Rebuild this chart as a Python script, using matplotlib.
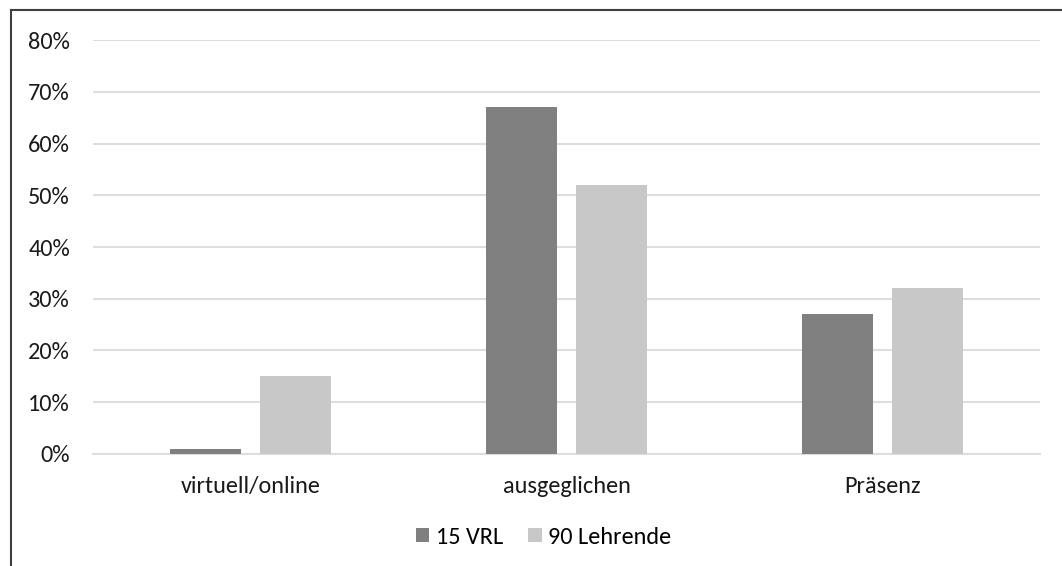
import numpy as np
import matplotlib as mpl
from matplotlib import pyplot as plt
from matplotlib.lines import Line2D
from matplotlib.ticker import PercentFormatter

mpl.rcParams['font.family'] = ['Carlito', 'Lato', 'DejaVu Sans']

categories = ['virtuell/online', 'ausgeglichen', 'Präsenz']
series_names = ['15 VRL', '90 Lehrende']
vrl = [1, 67, 27]
lehrende = [15, 52, 32]

colors = ['#808080', '#c8c8c8']
grid_color = '#dedede'
text_color = '#1a1a1a'
label_size = 17.5

fig = plt.figure(figsize=(10.62, 5.66), dpi=100)
ax = fig.add_axes([0.0876, 0.1979, 0.8917, 0.7314])

x = np.arange(len(categories))
width = 0.225
offset = 0.1425

for vals, off, color, name in zip([vrl, lehrende], [-offset, offset], colors, series_names):
    ax.bar(x + off, vals, width, color=color, label=name, zorder=3)

ax.set_xlim(-0.5, len(categories) - 0.5)
ax.set_ylim(0, 80)
ax.set_yticks(np.arange(0, 81, 10))
ax.yaxis.set_major_formatter(PercentFormatter(decimals=0))
ax.set_xticks(x)
ax.set_xticklabels(categories)

ax.grid(axis='y', color=grid_color, linewidth=1.5, zorder=0)
for side in ['top', 'right', 'left']:
    ax.spines[side].set_visible(False)
ax.spines['bottom'].set_color(grid_color)
ax.spines['bottom'].set_linewidth(1.5)
ax.tick_params(axis='both', length=0, labelsize=label_size, colors=text_color)
ax.tick_params(axis='y', pad=16.5)
ax.tick_params(axis='x', pad=16)

ax.legend(loc='center', bbox_to_anchor=(0.512, 0.051), bbox_transform=fig.transFigure,
          ncol=2, frameon=False, fontsize=label_size, handlelength=0.55, handleheight=0.55,
          handletextpad=0.28, columnspacing=1.03)

# outer frame lines along the top and left edges
frame_color = '#404040'
fig.add_artist(Line2D([0.0108, 1.0], [0.9823, 0.9823], transform=fig.transFigure,
                      color=frame_color, linewidth=1.5))
fig.add_artist(Line2D([0.0108, 0.0108], [0.0, 0.9823], transform=fig.transFigure,
                      color=frame_color, linewidth=1.5))

fig.savefig('out.png', dpi=100)
